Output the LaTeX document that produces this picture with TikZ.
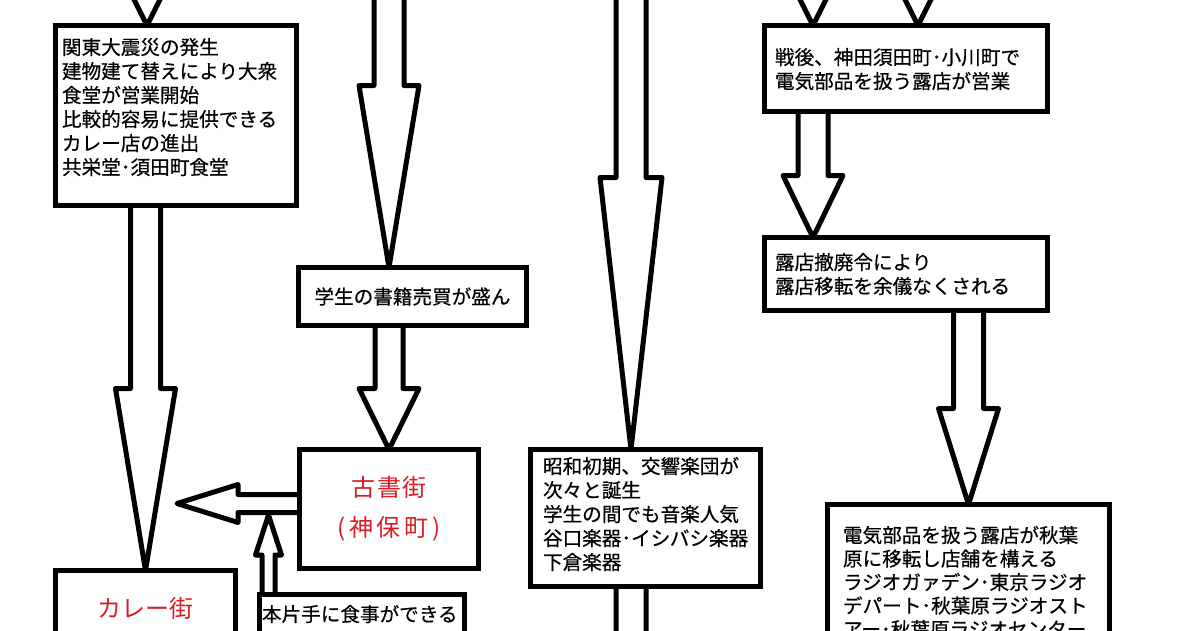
\documentclass[tikz,border=0pt]{standalone}
\usepackage{fontspec}
\setmainfont{Noto Sans CJK JP}[UprightFeatures={FakeBold=0.5}]
\newfontfamily\streetfont{Noto Sans CJK JP}
\usepackage{tikz}
\usetikzlibrary{calc}
\definecolor{streetred}{RGB}{215,30,36}

% start, tip, shaft half width, head half width, head length
\newcommand{\blockarrow}[5]{%
  \coordinate (ba base) at ($(#2)!#5!(#1)$);
  \draw[arrow line] ($(#1)!#3!90:(#2)$) -- ($(ba base)!#3!90:(#2)$) -- ($(ba base)!#4!90:(#2)$)
    -- (#2) -- ($(ba base)!#4!-90:(#2)$) -- ($(ba base)!#3!-90:(#2)$) -- ($(#1)!#3!-90:(#2)$);
}

\begin{document}
\begin{tikzpicture}[x=1pt,y=-1pt,
  event node/.style={draw,line width=5pt,outer sep=0pt,inner ysep=0pt,anchor=north west,
    align=left,font=\fontsize{19.6}{24}\selectfont},
  street node/.style={draw,line width=5pt,outer sep=0pt,anchor=north west,align=center,
    text=streetred,font=\streetfont\fontsize{24}{40}\selectfont},
  arrow line/.style={line width=5pt,line join=round}]

  \useasboundingbox (0,0) rectangle (1200,630);
  \fill[white] (0,0) rectangle (1200,630);
  \clip (0,0) rectangle (1200,630);

  \node[event node,text width=228pt,inner xsep=6.5pt,text height=29pt,text depth=151pt] (quake) at (55.5,25.5)
    {関東大震災の発生\\建物建て替えにより大衆\\食堂が営業開始\\比較的容易に提供できる\\カレー店の進出\\共栄堂･須田町食堂};
  \node[event node,minimum width=228pt,minimum height=58pt,align=center] (books) at (298.5,267.5) {学生の書籍売買が盛ん};
  \node[street node,minimum width=179pt,minimum height=119pt] (jimbocho) at (299.5,449.5)
    {{\addfontfeature{LetterSpace=5}古書街}\\{\addfontfeature{LetterSpace=15}(神保町)}};
  \node[street node,minimum width=180pt,inner ysep=0pt,text height=46.5pt,text depth=100pt] (curry) at (55.5,570.5) {カレー街};
  \node[event node,text width=200pt,inner xsep=2.5pt,text height=27pt,text depth=80pt] (lunch) at (259.5,594.5)
    {本片手に食事ができる};
  \node[event node,text width=205pt,inner xsep=12.5pt,text height=24pt,text depth=113pt] (music) at (530.5,449.5)
    {昭和初期、交響楽団が\\次々と誕生\\学生の間でも音楽人気\\谷口楽器･イシバシ楽器\\下倉楽器};
  \node[event node,text width=262pt,inner xsep=10.5pt,text height=39pt,text depth=47pt] (stalls) at (764.5,25.5)
    {戦後、神田須田町･小川町で\\電気部品を扱う露店が営業};
  \node[event node,text width=262pt,inner xsep=10.5pt,text height=32pt,text depth=41pt] (ban) at (764.5,237.5)
    {露店撤廃令により\\露店移転を余儀なくされる};
  \node[event node,text width=251pt,inner xsep=15.5pt,text height=38pt,text depth=150pt,
    font=\fontsize{19.6}{23.5}\selectfont] (akiba) at (827.5,504.5)
    {電気部品を扱う露店が秋葉\\原に移転し店舗を構える\\ラジオガァデン･東京ラジオ\\デパート･秋葉原ラジオスト\\アー･秋葉原ラジオセンター};

  \coordinate (topA) at (147,-200);
  \coordinate (topB) at (389,-200);
  \coordinate (topC) at (631,-200);
  \coordinate (topD1) at (813,-200);
  \coordinate (topD2) at (918,-200);
  \coordinate (endC) at (631,900);
  \coordinate (joinL) at (177,503.5);
  \coordinate (joinU) at (268.5,515);

  \blockarrow{topA}{topA |- quake.north}{15pt}{30pt}{60pt}
  \blockarrow{curry.north |- quake.south}{curry.north}{15pt}{30pt}{182pt}
  \blockarrow{topB}{topB |- books.north}{15pt}{30pt}{182pt}
  \blockarrow{jimbocho.north |- books.south}{jimbocho.north}{14pt}{30pt}{61pt}
  \blockarrow{joinL -| jimbocho.west}{joinL}{9pt}{19pt}{61pt}
  \blockarrow{joinU |- lunch.north}{joinU}{6.5pt}{13pt}{40pt}
  \blockarrow{topC}{topC |- music.north}{15pt}{31pt}{272pt}
  \blockarrow{topC |- music.south}{endC}{15pt}{30pt}{182pt}
  \blockarrow{topD1}{topD1 |- stalls.north}{15pt}{30pt}{60pt}
  \blockarrow{topD2}{topD2 |- stalls.north}{15pt}{30pt}{60pt}
  \blockarrow{topD1 |- stalls.south}{topD1 |- ban.north}{15pt}{30pt}{62pt}
  \blockarrow{akiba.north |- ban.south}{akiba.north}{15pt}{30pt}{96pt}
\end{tikzpicture}
\end{document}
